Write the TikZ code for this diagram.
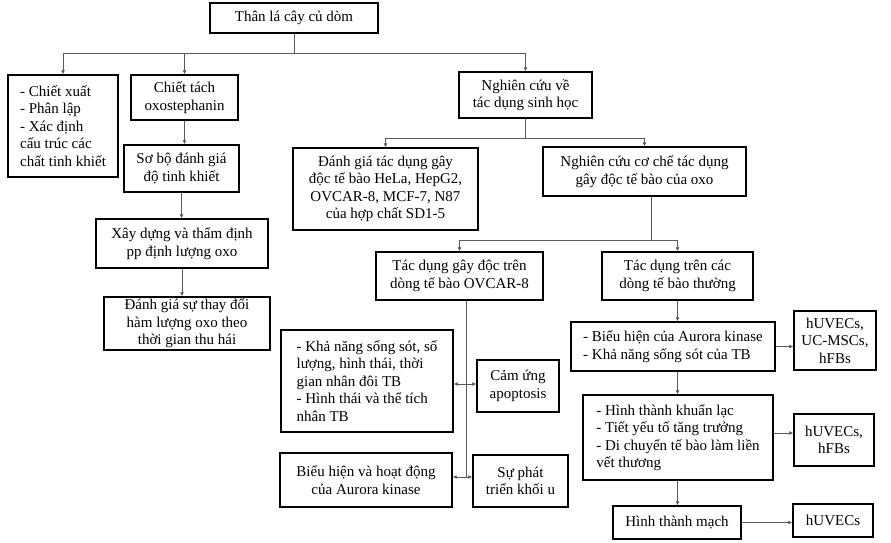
\documentclass[tikz,border=0pt]{standalone}
\usepackage{fontspec}
\setmainfont{Liberation Serif}
\usetikzlibrary{arrows.meta}
\begin{document}
\begin{tikzpicture}[x=1pt,y=-1pt,
  bx/.style={draw,line width=1.4pt,inner xsep=2pt,inner ysep=1pt,font=\fontsize{15}{17.5}\selectfont,align=center},
  lbx/.style={bx,align=left},
  ln/.style={draw,gray!70!black,line width=0.8pt},
  arr/.style={ln,-{Latex[length=4pt,width=4pt]}}]
\useasboundingbox[fill=white] (0,0) rectangle (891,543);
\node[bx,minimum width=168,minimum height=30] (root) at (294,18) {Thân lá cây củ dòm};
\node[lbx,minimum width=110,minimum height=102] (b1) at (63,126) {- Chiết xuất\\- Phân lập\\- Xác định\\cấu trúc các\\chất tinh khiết};
\node[bx,minimum width=107,minimum height=45] (b2) at (184.5,97.5) {Chiết tách\\oxostephanin};
\node[bx,minimum width=133,minimum height=46] (b3) at (525.5,95) {Nghiên cứu về\\tác dụng sinh học};
\node[bx,minimum width=115,minimum height=47] (b4) at (181.5,168.5) {Sơ bộ đánh giá\\độ tinh khiết};
\node[bx,minimum width=172,minimum height=49] (b5) at (182,243.5) {Xây dựng và thẩm định\\pp định lượng oxo};
\node[bx,minimum width=166,minimum height=53] (b6) at (187,323.5) {Đánh giá sự thay đổi\\hàm lượng oxo theo\\thời gian thu hái};
\node[bx,minimum width=185,minimum height=82] (b7) at (385.5,189) {Đánh giá tác dụng gây\\độc tế bào HeLa, HepG2,\\OVCAR-8, MCF-7, N87\\của hợp chất SD1-5};
\node[bx,minimum width=203,minimum height=49] (b8) at (644.5,171.5) {Nghiên cứu cơ chế tác dụng\\gây độc tế bào của oxo};
\node[bx,minimum width=167,minimum height=48] (b9) at (459.5,276) {Tác dụng gây độc trên\\dòng tế bào OVCAR-8};
\node[bx,minimum width=151,minimum height=48] (b10) at (677.5,276) {Tác dụng trên các\\dòng tế bào thường};
\node[lbx,minimum width=172,minimum height=102] (b11) at (367,381) {- Khả năng sống sót, số\\lượng, hình thái, thời\\gian nhân đôi TB\\- Hình thái và thể tích\\nhân TB};
\node[bx,minimum width=82,minimum height=52] (b12) at (518,386) {Cảm ứng\\apoptosis};
\node[bx,minimum width=172,minimum height=54] (b13) at (366,480) {Biểu hiện và hoạt động\\của Aurora kinase};
\node[bx,minimum width=95,minimum height=52] (b14) at (520.5,481) {Sự phát\\triển khối u};
\node[lbx,minimum width=204,minimum height=49] (b15) at (673,346.5) {- Biểu hiện của Aurora kinase\\- Khả năng sống sót của TB};
\node[bx,minimum width=82,minimum height=59] (b16) at (835,340.5) {hUVECs,\\UC-MSCs,\\hFBs};
\node[lbx,minimum width=190,minimum height=85] (b17) at (678,437.5) {- Hình thành khuẩn lạc\\- Tiết yếu tố tăng trưởng\\- Di chuyển tế bào làm liền\\vết thương};
\node[bx,minimum width=80,minimum height=52] (b18) at (834,440) {hUVECs,\\hFBs};
\node[bx,minimum width=128,minimum height=33] (b19) at (677,522.5) {Hình thành mạch};
\node[bx,minimum width=80,minimum height=33] (b20) at (833,520.5) {hUVECs};
% level 1
\coordinate (j1) at (0,53);
\draw[ln] (root.south) -- (root.south |- j1);
\draw[ln] (j1 -| b1.north) -- (j1 -| b3.north);
\draw[arr] (j1 -| b1.north) -- (b1.north);
\draw[arr] (j1 -| b2.north) -- (b2.north);
\draw[arr] (j1 -| b3.north) -- (b3.north);
\draw[arr] (b2.south) -- (b2.south |- b4.north);
\draw[arr] (b4.south) -- (b4.south |- b5.north);
\draw[arr] (b5.south) -- (b5.south |- b6.north);
% bio
\coordinate (j2) at (0,138);
\draw[ln] (b3.south) -- (b3.south |- j2);
\draw[ln] (j2 -| b7.north) -- (j2 -| b8.north);
\draw[arr] (j2 -| b7.north) -- (b7.north);
\draw[arr] (j2 -| b8.north) -- (b8.north);
\coordinate (j3) at (651,240);
\draw[ln] (b8.south -| j3) -- (j3);
\draw[ln] (j3 -| b9.north) -- (j3 -| b10.north);
\draw[arr] (j3 -| b9.north) -- (b9.north);
\draw[arr] (j3 -| b10.north) -- (b10.north);
% OVCAR trunk
\coordinate (t) at (466,0);
\draw[ln] (t |- b9.south) -- (t |- 0,477);
\draw[arr] (t |- 0,384) -- (b12.west |- 0,384);
\draw[arr] (t |- 0,384) -- (b11.east |- 0,384);
\draw[arr] (t |- 0,477) -- (b14.west |- 0,477);
\draw[arr] (t |- 0,477) -- (b13.east |- 0,477);
% normal cells
\draw[arr] (b10.south) -- (b10.south |- b15.north);
\draw[arr] (b10.south |- b15.south) -- (b10.south |- b17.north);
\draw[arr] (b10.south |- b17.south) -- (b10.south |- b19.north);
\draw[arr] (b15.east) -- (b16.west |- b15.east);
\draw[arr] (b17.east |- 0,433) -- (b18.west |- 0,433);
\draw[arr] (b19.east) -- (b20.west |- b19.east);
\end{tikzpicture}
\end{document}
